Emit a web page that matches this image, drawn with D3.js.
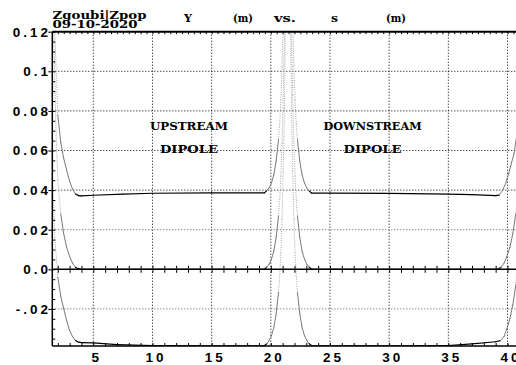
<!DOCTYPE html>
<html>
<head>
<meta charset="utf-8">
<script src="https://cdn.jsdelivr.net/npm/d3@7"></script>
<style>
body { margin: 0; background: #fff; }
svg { display: block; }
</style>
</head>
<body>
<svg id="chart"></svg>
<script>

// trajectories Y(s): [s (m), Y (m)]
var upperTraj = [[1.53,0.20],[1.75,0.12],[2.0,0.078],[2.25,0.064],[2.5,0.056],[2.75,0.050],[3.0,0.0445],
  [3.25,0.0405],[3.5,0.038],[3.75,0.0372],[4.0,0.0371],[5,0.0374],[7.5,0.038],[10,0.0384],[15,0.0386],
  [19.45,0.0386],[19.65,0.0396],[19.85,0.0411],[20.05,0.0436],[20.25,0.0476],[20.45,0.0546],[20.65,0.0656],
  [20.75,0.0736],[20.85,0.0856],[20.95,0.1026],[21.05,0.1266],[21.15,0.1586],[21.25,0.2086],[21.35,0.2886],
  [21.45,0.3886],[21.55,0.2885],[21.65,0.2085],[21.75,0.1585],[21.85,0.1265],[21.95,0.1025],[22.05,0.0855],
  [22.15,0.0735],[22.25,0.0655],[22.45,0.0545],[22.65,0.0475],[22.85,0.0435],[23.05,0.041],[23.25,0.0395],
  [23.45,0.0385],[25,0.0385],[30,0.0383],[35,0.038],[37,0.0377],[39,0.0372],[39.3,0.0375],[39.6,0.040],
  [39.85,0.0435],[40.1,0.0485],[40.35,0.054],[40.55,0.0585],[40.8,0.068],[41.0,0.08],[41.2,0.12],[41.4,0.2]];

var middleTraj = [[1.53,0.16],[1.7,0.11],[1.85,0.07],[2.0,0.045],[2.25,0.028],[2.5,0.018],[2.75,0.011],
  [3.0,0.0065],[3.25,0.003],[3.5,0.001],[3.75,0.0002],[4.0,0],[19.45,0],[19.65,0.001],[19.85,0.0025],
  [20.05,0.005],[20.25,0.009],[20.45,0.016],[20.65,0.027],[20.75,0.035],[20.85,0.047],[20.95,0.064],
  [21.05,0.088],[21.15,0.12],[21.25,0.17],[21.35,0.25],[21.45,0.35],[21.55,0.25],[21.65,0.17],[21.75,0.12],
  [21.85,0.088],[21.95,0.064],[22.05,0.047],[22.15,0.035],[22.25,0.027],[22.45,0.016],[22.65,0.009],
  [22.85,0.005],[23.05,0.0025],[23.25,0.001],[23.45,0],[39.2,0],[39.45,0.001],[39.7,0.003],[39.95,0.0065],
  [40.2,0.011],[40.45,0.018],[40.7,0.028],[40.95,0.045],[41.1,0.07],[41.25,0.11],[41.4,0.16]];

var lowerTraj = [[1.53,0.05],[1.76,0.015],[2.0,-0.004],[2.25,-0.0135],[2.46,-0.019],[2.75,-0.026],[3.0,-0.031],
  [3.25,-0.034],[3.5,-0.036],[3.75,-0.0368],[4.0,-0.037],[5,-0.0372],[7,-0.038],[10,-0.0385],[15,-0.0386],
  [19.45,-0.0386],[19.65,-0.0376],[19.85,-0.0361],[20.05,-0.0336],[20.25,-0.0296],[20.45,-0.0226],
  [20.65,-0.0116],[20.75,-0.0036],[20.85,0.0084],[20.95,0.0254],[21.05,0.0494],[21.15,0.0814],[21.25,0.1314],
  [21.35,0.2114],[21.45,0.3114],[21.55,0.2114],[21.65,0.1314],[21.75,0.0814],[21.85,0.0494],[21.95,0.0254],
  [22.05,0.0084],[22.15,-0.0036],[22.25,-0.0116],[22.45,-0.0226],[22.65,-0.0296],[22.85,-0.0336],
  [23.05,-0.0361],[23.25,-0.0376],[23.45,-0.0386],[30,-0.0386],[35,-0.0385],[37,-0.0377],[39,-0.0366],
  [39.4,-0.036],[39.7,-0.034],[39.95,-0.030],[40.2,-0.025],[40.45,-0.018],[40.7,-0.008],[40.9,0.01],[41.15,0.05]];

var xTicks = [5, 10, 15, 20, 25, 30, 35, 40];
var yTicks = [0.12, 0.1, 0.08, 0.06, 0.04, 0.02, 0.0, -0.02];
var yTickLabels = ["0.12", "0.1", "0.08", "0.06", "0.04", "0.02", "0.0", "-.02"];
var titleWords = ["Y", "(m)", "vs.", "s", "(m)"];
var magnetLabels = [["UPSTREAM", "DIPOLE"], ["DOWNSTREAM", "DIPOLE"]];
var magnetAt = [13.08, 28.6];              // s of label centre

function render() {

var W = 516, H = 365;
var margin = {top: 31.7, left: 52.3};
var plotBottom = 346;

var svg = d3.select('#chart')
    .attr("width", W)
    .attr("height", H);

// 5 m sits at 93.3 px, 40 m at 507.5 px; frame starts at 52.3 px
var xScale = d3.scaleLinear()
    .domain([5, 40])
    .range([93.3, 507.5]);
var sMin = xScale.invert(margin.left),
    xRight = xScale(42);
xScale.domain([sMin, 42]).range([margin.left, xRight]);

var yScale = d3.scaleLinear()
    .domain([0.0, 0.12])
    .range([269.3, margin.top]);
var yMin = yScale.invert(plotBottom);
yScale.domain([yMin, 0.12]).range([plotBottom, margin.top]);

svg.append("clipPath").attr("id", "clip")
    .append("rect")
    .attr("x", margin.left).attr("y", margin.top)
    .attr("width", xRight - margin.left)
    .attr("height", plotBottom - margin.top);

// dotted grid
var grid = svg.append("g");
grid.selectAll("line.gx")
    .data(xTicks)
    .enter().append("line")
    .attr("x1", function(d) { return xScale(d); })
    .attr("x2", function(d) { return xScale(d); })
    .attr("y1", margin.top).attr("y2", plotBottom)
    .style("stroke", "#000").style("stroke-width", 1)
    .style("stroke-dasharray", "1,2");
grid.selectAll("line.gy")
    .data(yTicks.filter(function(d) { return d != 0 && d != 0.12; }))
    .enter().append("line")
    .attr("x1", margin.left).attr("x2", W)
    .attr("y1", function(d) { return yScale(d); })
    .attr("y2", function(d) { return yScale(d); })
    .style("stroke", function(d) { return Math.abs(d) < 0.03 ? "#555" : "#000"; })
    .style("stroke-width", 1)
    .style("stroke-dasharray", "1,2");

// trajectories, shade each segment by its steepness on screen
var curves = svg.append("g").attr("clip-path", "url(#clip)");
[upperTraj, middleTraj, lowerTraj].forEach(function(traj) {
  for (var i = 0; i < traj.length - 1; i++) {
    var x1 = xScale(traj[i][0]), y1 = yScale(traj[i][1]);
    var x2 = xScale(traj[i+1][0]), y2 = yScale(traj[i+1][1]);
    var slope = Math.abs((y2 - y1) / (x2 - x1));
    var seg = curves.append("line")
        .attr("x1", x1).attr("y1", y1)
        .attr("x2", x2).attr("y2", y2);
    if (slope < 0.9) {
      seg.style("stroke", "#000").style("stroke-width", 1.2).style("stroke-linecap", "round");
    } else if (slope < 10) {
      seg.style("stroke", "#7a7a7a").style("stroke-width", 1).style("stroke-linecap", "round");
    } else {
      seg.style("stroke", "#a8a8a8").style("stroke-width", 1)
         .style("stroke-dasharray", "1,1.3");
    }
  }
});

// frame
svg.append("line")
    .attr("x1", margin.left).attr("x2", W)
    .attr("y1", margin.top).attr("y2", margin.top)
    .style("stroke", "#000").style("stroke-width", 2);
svg.append("line")
    .attr("x1", margin.left).attr("x2", W)
    .attr("y1", plotBottom).attr("y2", plotBottom)
    .style("stroke", "#000").style("stroke-width", 1.5);
svg.append("line")
    .attr("x1", margin.left).attr("x2", margin.left)
    .attr("y1", margin.top).attr("y2", plotBottom)
    .style("stroke", "#000").style("stroke-width", 1.5);
// zero line
svg.append("line")
    .attr("x1", margin.left).attr("x2", W)
    .attr("y1", yScale(0)).attr("y2", yScale(0))
    .style("stroke", "#000").style("stroke-width", 1.5);

// ticks
var sTicks = d3.range(2, 42, 1);
var sHalf = d3.range(2, 42, 0.5);
svg.append("g").attr("transform", "translate(0," + margin.top + ")")
    .call(d3.axisBottom(xScale).tickValues(sHalf).tickSize(2.5).tickFormat(""))
    .call(function(g) { g.select(".domain").remove(); });
svg.append("g").attr("transform", "translate(0," + plotBottom + ")")
    .call(d3.axisTop(xScale).tickValues(sTicks).tickSize(3).tickFormat(""))
    .call(function(g) { g.select(".domain").remove(); });
svg.append("g").attr("transform", "translate(0," + yScale(0) + ")")
    .call(d3.axisTop(xScale).tickValues(sTicks).tickSize(3.5).tickFormat(""))
    .call(function(g) { g.select(".domain").remove(); });
svg.append("g").attr("transform", "translate(0," + yScale(0) + ")")
    .call(d3.axisBottom(xScale).tickValues(sTicks).tickSize(3.5).tickFormat(""))
    .call(function(g) { g.select(".domain").remove(); });
svg.append("g").attr("transform", "translate(" + margin.left + ",0)")
    .call(d3.axisRight(yScale).tickValues(d3.range(-0.035, 0.1201, 0.005)).tickSize(3).tickFormat(""))
    .call(function(g) { g.select(".domain").remove(); });
svg.append("g").attr("transform", "translate(" + margin.left + ",0)")
    .call(d3.axisLeft(yScale).tickValues(yTicks).tickSize(4).tickFormat(""))
    .call(function(g) { g.select(".domain").remove(); });
svg.selectAll(".tick line").style("stroke", "#000").style("stroke-width", 1);

// tick labels
svg.selectAll("text.xl")
    .data(xTicks)
    .enter().append("text")
    .attr("x", function(d) { return xScale(d) + 3.5; })
    .attr("y", 362)
    .attr("text-anchor", "middle")
    .style("font-family", "'Liberation Sans', Arial, sans-serif")
    .style("font-weight", "bold")
    .style("font-size", "13.5px")
    .style("letter-spacing", "3px")
    .text(function(d) { return d; });
svg.selectAll("text.yl")
    .data(yTicks)
    .enter().append("text")
    .attr("x", 51)
    .attr("y", function(d) { return yScale(d) + 4.8; })
    .attr("text-anchor", "end")
    .style("font-family", "'Liberation Sans', Arial, sans-serif")
    .style("font-weight", "bold")
    .style("font-size", "13.5px")
    .style("letter-spacing", "3px")
    .text(function(d, i) { return yTickLabels[i]; });

// header, courier-like slab serif squeezed to the widths seen
var serif = "'DejaVu Serif', 'Liberation Serif', serif";
function slab(x, y, size, len, t, anchor) {
  return svg.append("text")
      .attr("x", x).attr("y", y)
      .attr("text-anchor", anchor || "start")
      .attr("textLength", len)
      .attr("lengthAdjust", "spacingAndGlyphs")
      .style("font-family", serif).style("font-weight", "bold")
      .style("font-size", size + "px")
      .text(t);
}
slab(52.5, 19.3, 10.5, 94, "Zgoubi|Zpop");
slab(52.5, 28.2, 10.5, 85, "09-10-2020");

var titleX = [184, 233, 274, 331, 386],
    titleLen = [8, 20, 22, 7, 20];
titleWords.forEach(function(t, i) {
  slab(titleX[i], 22, 10.5, titleLen[i], t);
});

// magnet names
var magLen = [[78, 58], [98, 58]];
magnetLabels.forEach(function(lines, i) {
  lines.forEach(function(t, j) {
    slab(xScale(magnetAt[i]), 130 + j * 23.3, 11.5, magLen[i][j], t, "middle");
  });
});

}

render();
</script>
</body>
</html>
